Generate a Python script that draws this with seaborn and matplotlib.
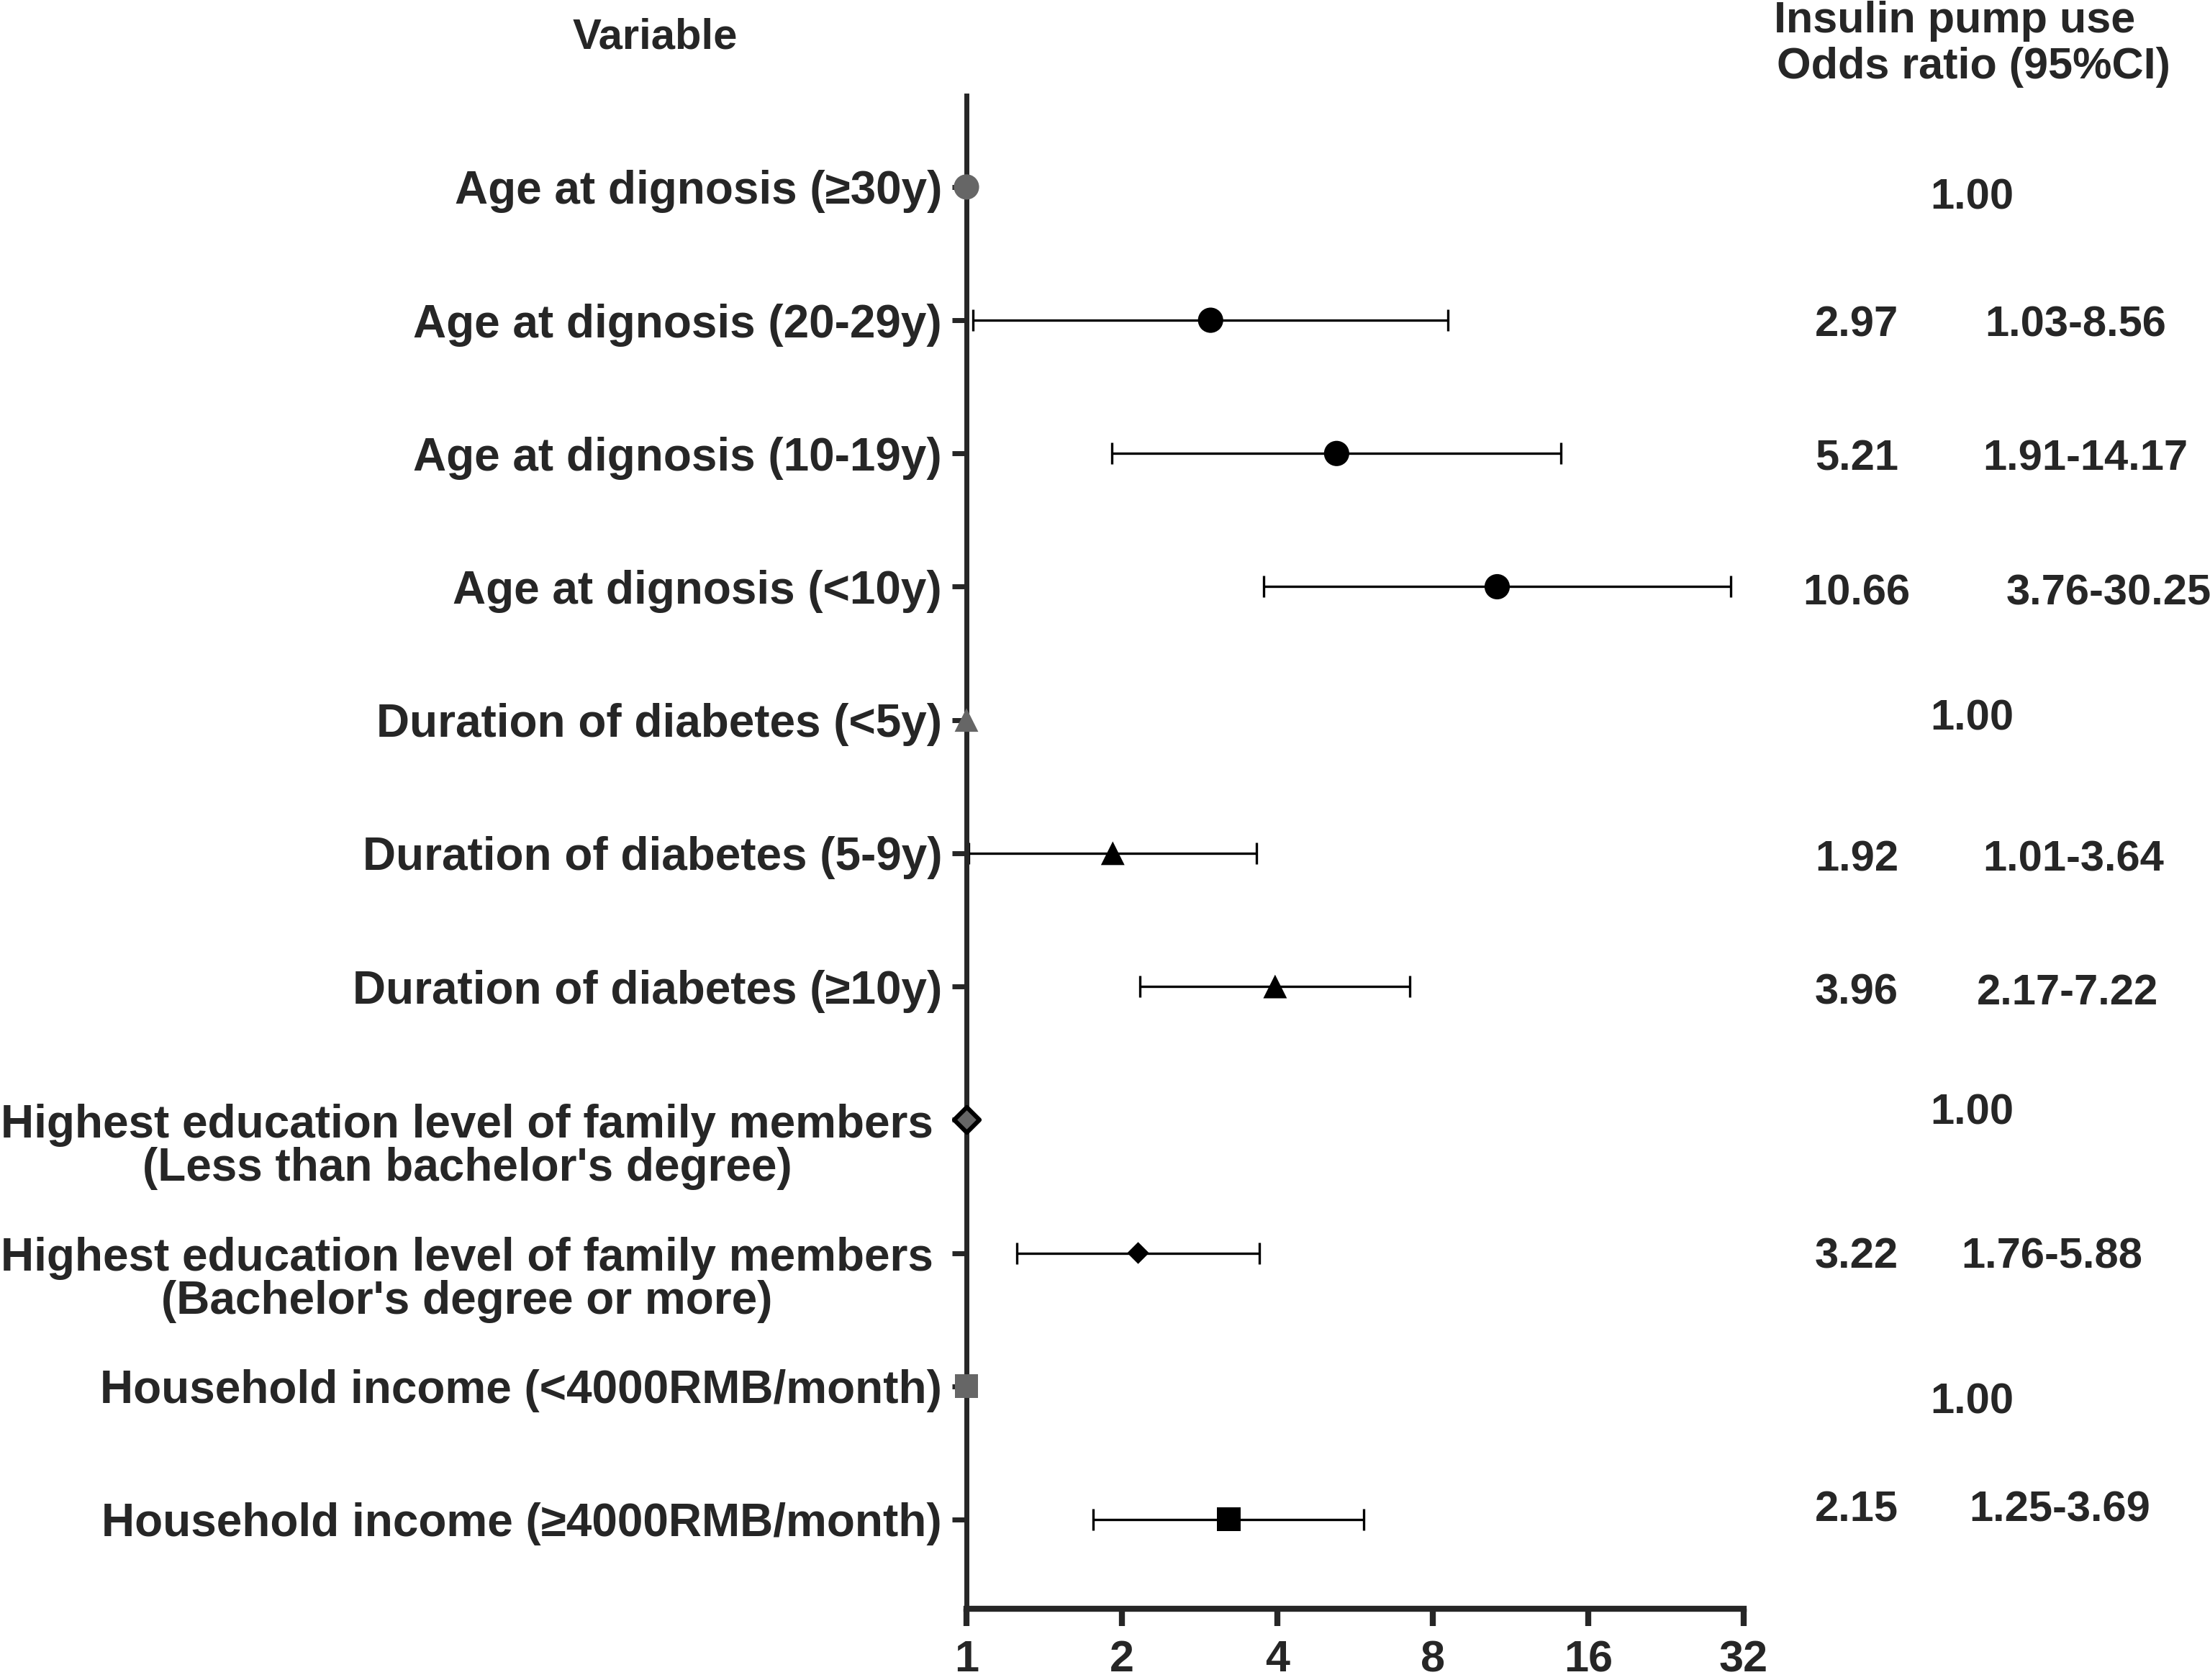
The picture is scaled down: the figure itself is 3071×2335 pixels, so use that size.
import matplotlib
matplotlib.use("Agg")
import matplotlib.pyplot as plt
import matplotlib.transforms as mtransforms
import numpy as np
import pandas as pd
import seaborn as sns

# rows, top to bottom
variables = [
    "Age at dignosis (≥30y)",
    "Age at dignosis (20-29y)",
    "Age at dignosis (10-19y)",
    "Age at dignosis (<10y)",
    "Duration of diabetes (<5y)",
    "Duration of diabetes (5-9y)",
    "Duration of diabetes (≥10y)",
    "Highest education level of family members\n(Less than bachelor's degree)",
    "Highest education level of family members\n(Bachelor's degree or more)",
    "Household income (<4000RMB/month)",
    "Household income (≥4000RMB/month)",
]
# plotted estimates (as drawn in the figure)
odds_ratio = [1.00, 2.97, 5.21, 10.66, 1.00, 1.92, 3.96, 1.00, 2.15, 1.00, 3.22]
ci_low = [1.00, 1.03, 1.91, 3.76, 1.00, 1.01, 2.17, 1.00, 1.25, 1.00, 1.76]
ci_high = [1.00, 8.56, 14.17, 30.25, 1.00, 3.64, 7.22, 1.00, 3.69, 1.00, 5.88]
is_ref = [True, False, False, False, True, False, False, True, False, True, False]
markers = ["o", "o", "o", "o", "^", "^", "^", "D", "D", "s", "s"]

# right-hand table text
or_text = ["1.00", "2.97", "5.21", "10.66", "1.00", "1.92", "3.96", "1.00", "3.22", "1.00", "2.15"]
ci_text = ["", "1.03-8.56", "1.91-14.17", "3.76-30.25", "", "1.01-3.64", "2.17-7.22",
           "", "1.76-5.88", "", "1.25-3.69"]

x_ticks = [1, 2, 4, 8, 16, 32]

df = pd.DataFrame({
    "variable": variables,
    "row": np.arange(len(variables)),
    "or": odds_ratio,
    "lo": ci_low,
    "hi": ci_high,
    "ref": is_ref,
    "marker": markers,
})

sns.set_theme(style="ticks")
plt.rcParams["font.family"] = ["Liberation Sans", "DejaVu Sans"]
plt.rcParams["font.weight"] = "bold"

W, H, DPI = 3071, 2335, 200
fig = plt.figure(figsize=(W / DPI, H / DPI), dpi=DPI)
ax = fig.add_axes([1343 / W, (H - 2236) / H, (2423 - 1343) / W, (2236 - 133) / H])

# confidence intervals
ci = df[~df["ref"]]
ax.errorbar(ci["or"], ci["row"],
            xerr=[ci["or"] - ci["lo"], ci["hi"] - ci["or"]],
            fmt="none", ecolor="black", elinewidth=1.2,
            capsize=5.4, capthick=1.2, zorder=2)

sizes = {"o": 160, "^": 140, "s": 140, "D": 60}
for _, r in df.iterrows():
    size = sizes[r["marker"]]
    if r["ref"]:
        color = "#666666"
        if r["marker"] == "D":
            edge, lw, size = "black", 2.2, 80
        else:
            edge, lw = "none", 0
    else:
        color, edge, lw = "black", "none", 0
    sns.scatterplot(x=[r["or"]], y=[r["row"]], marker=r["marker"], s=size,
                    color=color, edgecolor=edge, linewidth=lw,
                    ax=ax, zorder=4, clip_on=False, legend=False)

ax.set_xscale("log", base=2)
ax.set_xlim(1, 32)
ax.set_xticks(x_ticks)
ax.set_xticklabels([str(t) for t in x_ticks])
ax.minorticks_off()
ax.set_ylim(10.67, -0.685)
ax.set_yticks(df["row"])
ax.set_yticklabels(df["variable"])
ax.set_xlabel("")
ax.set_ylabel("")

sns.despine(ax=ax, top=True, right=True)
ax.spines["left"].set_linewidth(2.5)
ax.spines["bottom"].set_linewidth(3.0)
ax.tick_params(axis="y", length=7.2, width=2.5, pad=5, labelsize=23, direction="out")
ax.tick_params(axis="x", length=8.5, width=3.0, pad=7, labelsize=22, direction="out")

for lab in ax.get_yticklabels():
    lab.set_fontweight("bold")
    if "\n" in lab.get_text():
        lab.set_multialignment("center")
        lab.set_linespacing(1.0)
        lab.set_transform(lab.get_transform() +
                          mtransforms.ScaledTranslation(-12 / DPI, -31 / DPI, fig.dpi_scale_trans))
for lab in ax.get_xticklabels():
    lab.set_fontweight("bold")

# table columns
trans = mtransforms.blended_transform_factory(fig.transFigure, ax.transData)
text_dy = [0.08, 0.04, 0.04, 0.05, -0.01, 0.05, 0.05, -0.05, 0.03, 0.12, -0.07]
ci_x = [0, 2884, 2898, 2930, 0, 2881, 2873, 0, 2851, 0, 2862]
for i in range(len(variables)):
    y = i + text_dy[i]
    if ci_text[i] == "":
        ax.text(2740 / W, y, or_text[i], transform=trans, ha="center", va="center",
                fontsize=21.5, fontweight="bold", clip_on=False)
    else:
        ax.text(2580 / W, y, or_text[i], transform=trans, ha="center", va="center",
                fontsize=21.5, fontweight="bold", clip_on=False)
        ax.text(ci_x[i] / W, y, ci_text[i], transform=trans, ha="center", va="center",
                fontsize=21.5, fontweight="bold", clip_on=False)

fig.text(910 / W, 1 - 52 / H, "Variable", ha="center", va="center",
         fontsize=21.5, fontweight="bold")
fig.text(2716 / W, 1 - 30 / H, "Insulin pump use", ha="center", va="center",
         fontsize=22, fontweight="bold")
fig.text(2742 / W, 1 - 93 / H, "Odds ratio (95%CI)", ha="center", va="center",
         fontsize=22, fontweight="bold")

fig.savefig("out.png", dpi=DPI, facecolor="white")
